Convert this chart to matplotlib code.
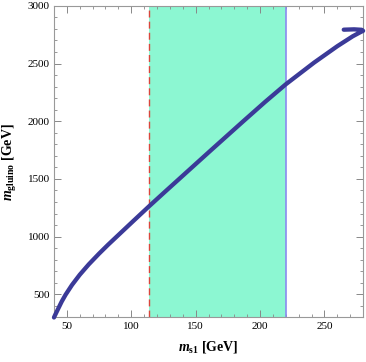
import matplotlib
matplotlib.use("Agg")
import matplotlib.pyplot as plt
from matplotlib.ticker import MultipleLocator

# curve: m_s1 vs m_gluino
m_s1 = [40, 41, 43, 46, 49, 54, 60, 67, 75, 82, 90, 102, 114, 126, 138, 162, 187,
        204, 220, 242, 260, 272, 278, 280, 279, 273, 265]
m_gluino = [300, 324, 370, 438, 497, 582, 670, 760, 853, 930, 1014, 1140, 1265,
            1387, 1508, 1750, 2000, 2168, 2320, 2508, 2650, 2736, 2772, 2783, 2792,
            2796, 2793]

band_low = 114
band_high = 220

plt.rcParams["mathtext.fontset"] = "custom"
plt.rcParams["mathtext.rm"] = "Liberation Serif:bold"
plt.rcParams["mathtext.it"] = "Liberation Serif:italic:bold"
plt.rcParams["mathtext.bf"] = "Liberation Serif:bold"

fig = plt.figure(figsize=(3.66, 3.62), dpi=100)
ax = fig.add_axes([0.1475, 0.123, 0.8445, 0.861])

ax.axvspan(band_low, band_high, color="#8cf7d2", lw=0, zorder=1)
ax.axvline(band_low, color="#d9453c", lw=1.0, ls=(0, (5, 3)), zorder=2)
ax.axvline(band_high, color="#8a8af0", lw=1.2, zorder=2)
ax.plot(m_s1, m_gluino, color="#3b3a98", lw=3.1, solid_capstyle="round",
        solid_joinstyle="round", zorder=3, clip_on=False)

ax.set_xlim(40, 280)
ax.set_ylim(300, 3000)
ax.xaxis.set_major_locator(MultipleLocator(50))
ax.xaxis.set_minor_locator(MultipleLocator(10))
ax.yaxis.set_major_locator(MultipleLocator(500))
ax.yaxis.set_minor_locator(MultipleLocator(100))

for s in ax.spines.values():
    s.set_color("#999999")
    s.set_linewidth(0.8)
ax.tick_params(which="both", direction="in", top=True, right=True, color="#888888")
ax.tick_params(which="major", length=5, width=0.7, labelsize=8, pad=3)
ax.tick_params(which="minor", length=2.5, width=0.6)
for lab in ax.get_xticklabels() + ax.get_yticklabels():
    lab.set_family("Liberation Serif")

ax.set_xlabel(r"$m_{\mathrm{s1}}$ [GeV]", family="Liberation Serif",
              fontweight="bold", fontsize=10, labelpad=6)
ax.set_ylabel(r"$m_{\mathrm{gluino}}$ [GeV]", family="Liberation Serif",
              fontweight="bold", fontsize=10, labelpad=6)

fig.savefig("out.png", dpi=100)
